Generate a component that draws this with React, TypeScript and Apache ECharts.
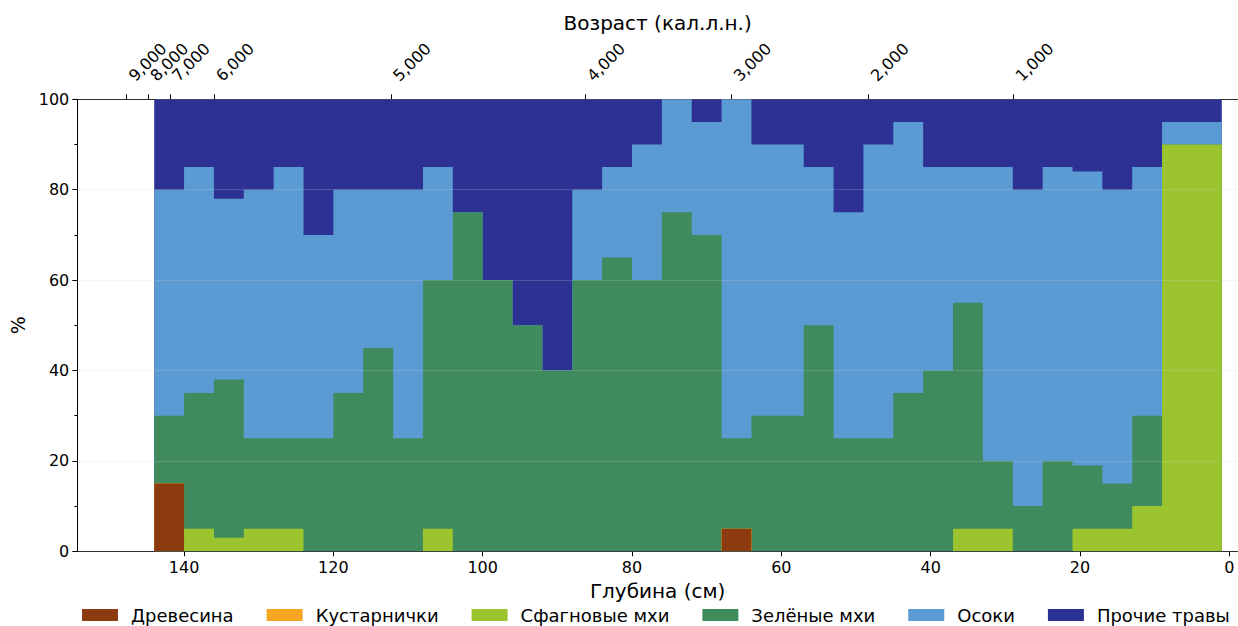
import React, { useEffect, useRef } from "react";
import * as echarts from "echarts";

const categories = ["Древесина", "Кустарнички", "Сфагновые мхи", "Зелёные мхи", "Осоки", "Прочие травы"];
const colors = ["#8C3A10", "#F5A623", "#9CC42F", "#3F8B5E", "#5B9BD3", "#2E3194"];

// depth (cm) where each sample segment starts (left→right), and the end of the last one
const segmentStartDepths = [144, 140, 136, 132, 128, 124, 120, 116, 112, 108, 104, 100, 96, 92, 88, 84, 80, 76, 72, 68, 64, 57, 53, 49, 45, 41, 37, 33, 29, 25, 21, 17, 13, 9];
const lastSegmentEnd = 1;

const wood = [15, 0, 0, 0, 0, 0, 0, 0, 0, 0, 0, 0, 0, 0, 0, 0, 0, 0, 0, 5, 0, 0, 0, 0, 0, 0, 0, 0, 0, 0, 0, 0, 0, 0];
const shrubs = [0, 0, 0, 0, 0, 0, 0, 0, 0, 0, 0, 0, 0, 0, 0, 0, 0, 0, 0, 0, 0, 0, 0, 0, 0, 0, 0, 0, 0, 0, 0, 0, 0, 0];
const sphagnum = [0, 5, 3, 5, 5, 0, 0, 0, 0, 5, 0, 0, 0, 0, 0, 0, 0, 0, 0, 0, 0, 0, 0, 0, 0, 0, 5, 5, 0, 0, 5, 5, 10, 90];
const greenMoss = [15, 30, 35, 20, 20, 25, 35, 45, 25, 55, 75, 60, 50, 40, 60, 65, 60, 75, 70, 20, 30, 50, 25, 25, 35, 40, 50, 15, 10, 20, 14, 10, 20, 0];
const sedges = [50, 50, 40, 55, 60, 45, 45, 35, 55, 25, 0, 0, 0, 0, 20, 20, 30, 25, 25, 75, 60, 35, 50, 65, 60, 45, 30, 65, 70, 65, 65, 65, 55, 5];
const otherHerbs = [20, 15, 22, 20, 15, 30, 20, 20, 20, 15, 25, 40, 50, 60, 20, 15, 10, 0, 5, 0, 10, 15, 25, 10, 5, 15, 15, 15, 20, 15, 16, 20, 15, 5];

const depthTicks = [0, 20, 40, 60, 80, 100, 120, 140];
const ageLabels = [9000, 8000, 7000, 6000, 5000, 4000, 3000, 2000, 1000];
const ageDepths = [147.7, 144.8, 141.9, 136.0, 112.3, 86.3, 66.7, 48.3, 28.9];

const seriesValues = [wood, shrubs, sphagnum, greenMoss, sedges, otherHerbs];

const X_MIN = -1.17;
const X_MAX = 154.3;
const FONT = "DejaVu Sans";

export default function App() {
  const ref = useRef<HTMLDivElement>(null);
  useEffect(() => {
    document.body.style.margin = "0";
    if (!ref.current) return;
    const chart = echarts.init(ref.current, null, { renderer: "svg" });

    // cumulative tops of each layer (stack order: first array at the bottom)
    const cumulative: number[][] = [];
    seriesValues.forEach((vals, k) => {
      cumulative.push(vals.map((v, i) => v + (k > 0 ? cumulative[k - 1][i] : 0)));
    });
    const segEnds = segmentStartDepths.slice(1).concat([lastSegmentEnd]);

    // draw the topmost layer first so lower layers paint over it
    const series = seriesValues
      .map((_, k) => ({
        name: categories[k],
        type: "line",
        symbol: "none",
        showSymbol: false,
        color: colors[k],
        lineStyle: { width: 0, color: colors[k] },
        areaStyle: { color: colors[k], opacity: 1, origin: "start" },
        emphasis: { disabled: true },
        silent: true,
        z: 2,
        data: segmentStartDepths.flatMap((d, i) => [
          [d, cumulative[k][i]],
          [segEnds[i], cumulative[k][i]],
        ]),
      }))
      .reverse();

    const ageFormatter = (v: number) => {
      let best = 0;
      for (let i = 0; i < ageDepths.length; i++) {
        if (Math.abs(ageDepths[i] - v) < Math.abs(ageDepths[best] - v)) best = i;
      }
      return ageLabels[best].toLocaleString("en-US");
    };
    // the label at index 1 is put on its own overlaid axis so that ECharts'
    // min/max-label overlap logic does not drop it
    const mainAgeDepths = ageDepths.filter((_, i) => i !== 1);
    const extraAgeDepths = ageDepths.filter((_, i) => i === 1);

    const axisText = { color: "#000", fontSize: 16, fontFamily: FONT };
    const topAxis = (vals: number[], withLine: boolean, withName: boolean) => ({
      type: "value",
      position: "top",
      gridIndex: 0,
      min: X_MIN,
      max: X_MAX,
      inverse: true,
      name: withName ? "Возраст (кал.л.н.)" : "",
      nameLocation: "middle",
      nameGap: 64,
      nameTextStyle: { color: "#000", fontSize: 20, fontFamily: FONT },
      axisLine: { show: withLine, onZero: false, lineStyle: { color: "#000", width: 1 } },
      axisTick: { show: true, customValues: vals, length: 5, lineStyle: { color: "#000" } },
      axisLabel: {
        ...axisText,
        customValues: vals,
        rotate: -45,
        margin: 16,
        padding: [0, 0, 0, 7],
        hideOverlap: false,
        formatter: ageFormatter,
      },
      splitLine: { show: false },
    });

    chart.setOption({
      animation: false,
      textStyle: { fontFamily: FONT },
      grid: { left: 77.3, right: 0, top: 99.3, bottom: 74.7, outerBoundsMode: "none" },
      legend: {
        data: categories,
        left: 82,
        top: 606,
        width: 1200,
        padding: 0,
        icon: "rect",
        itemWidth: 36,
        itemHeight: 12,
        itemGap: 33,
        textStyle: { color: "#000", fontSize: 18, fontFamily: FONT, padding: [0, 0, 0, 8] },
        selectedMode: false,
      },
      xAxis: [
        {
          type: "value",
          position: "bottom",
          min: X_MIN,
          max: X_MAX,
          inverse: true,
          name: "Глубина (см)",
          nameLocation: "middle",
          nameGap: 30,
          nameTextStyle: { color: "#000", fontSize: 20, fontFamily: FONT },
          axisLine: { show: true, onZero: false, lineStyle: { color: "#000", width: 1 } },
          axisTick: { show: true, customValues: depthTicks, length: 5, lineStyle: { color: "#000" } },
          axisLabel: { ...axisText, customValues: depthTicks, margin: 8 },
          splitLine: { show: false },
        },
        topAxis(mainAgeDepths, true, true),
        topAxis(extraAgeDepths, false, false),
      ],
      yAxis: {
        type: "value",
        min: 0,
        max: 100,
        interval: 20,
        name: "%",
        nameLocation: "middle",
        nameGap: 48,
        nameTextStyle: { color: "#000", fontSize: 19, fontFamily: FONT },
        z: 5,
        axisLine: { show: true, onZero: false, lineStyle: { color: "#000", width: 1 } },
        axisTick: { show: true, length: 5, lineStyle: { color: "#000" } },
        minorTick: { show: true, splitNumber: 2, length: 3, lineStyle: { color: "#000" } },
        axisLabel: { ...axisText, margin: 8 },
        splitLine: { show: true, lineStyle: { color: "rgba(210,210,210,0.22)", width: 1 } },
      },
      series,
    });
    return () => chart.dispose();
  }, []);
  return <div ref={ref} style={{ width: 1238, height: 626 }} />;
}
